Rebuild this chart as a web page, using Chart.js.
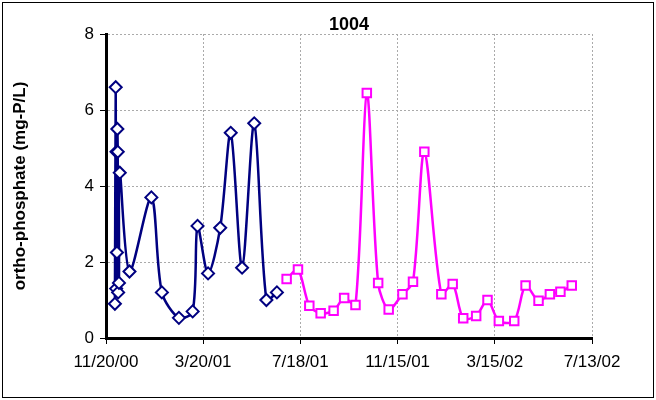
<!DOCTYPE html>
<html>
<head>
<script src="https://cdn.jsdelivr.net/npm/chart.js"></script>
<style>
  body { margin: 0; background: #fff; }
  #wrap { position: absolute; left: 0; top: 0; width: 656px; height: 400px; }
</style>
</head>
<body>
<div id="wrap"><canvas id="c" width="656" height="400"></canvas></div>
<script>
// days after 11/20/00 and ortho-phosphate (mg-P/L)
const blueDays = [11, 12, 12.5, 13, 13.5, 14, 14.5, 15, 16, 17, 29, 56, 69, 90, 107, 113, 126, 141, 154, 168, 183, 198, 211];
const blueVals = [0.9, 6.6, 1.3, 4.9, 2.25, 5.5, 4.9, 1.2, 1.45, 4.35, 1.75, 3.7, 1.2, 0.53, 0.7, 2.95, 1.7, 2.9, 5.4, 1.85, 5.65, 1.0, 1.2];
const pinkDays = [223, 237, 251, 265, 281, 294, 308, 322, 336, 349, 366, 379, 393, 414, 428, 441, 457, 471, 485, 504, 518, 534, 548, 561, 575];
const pinkVals = [1.55, 1.8, 0.85, 0.65, 0.72, 1.05, 0.87, 6.45, 1.45, 0.75, 1.15, 1.48, 4.9, 1.15, 1.42, 0.52, 0.58, 1.0, 0.45, 0.45, 1.38, 0.98, 1.15, 1.22, 1.38];
const startDate = new Date(2000, 10, 20);
const titleText = '1004';

function pts(d, v) { return d.map((x, i) => ({ x: x, y: v[i] })); }
function fmt(day) {
  const d = new Date(startDate.getTime() + day * 86400000);
  return (d.getMonth() + 1) + '/' + d.getDate() + '/' + String(d.getFullYear()).slice(2);
}

// outer frame + title centred over the plot area
const frame = {
  id: 'frame',
  afterDraw(chart) {
    const c = chart.ctx, a = chart.chartArea;
    c.save();
    c.strokeStyle = '#000';
    c.lineWidth = 1;
    c.strokeRect(2.5, 2.5, 651, 395);
    c.fillStyle = '#000';
    c.font = 'bold 18px "Liberation Sans"';
    c.textAlign = 'center';
    c.textBaseline = 'middle';
    c.fillText(titleText, (a.left + a.right) / 2, 25);
    c.restore();
  }
};

new Chart(document.getElementById('c'), {
  type: 'line',
  data: {
    datasets: [
      {
        data: pts(blueDays, blueVals),
        borderColor: '#000080',
        pointStyle: 'rectRot', pointRadius: 6, pointBorderWidth: 2,
        pointBorderColor: '#000080', pointBackgroundColor: '#fff',
        borderWidth: 2.5, tension: 0.3
      },
      {
        data: pts(pinkDays, pinkVals),
        borderColor: '#ff00ff',
        pointStyle: 'rect', pointRadius: 6, pointBorderWidth: 2,
        pointBorderColor: '#ff00ff', pointBackgroundColor: '#fff',
        borderWidth: 2.5, tension: 0.3
      }
    ]
  },
  options: {
    responsive: false,
    animation: false,
    layout: { padding: { left: 6, right: 64, top: 34, bottom: 0 } },
    plugins: {
      legend: { display: false },
      tooltip: { enabled: false }
    },
    scales: {
      x: {
        type: 'linear', min: 0, max: 600,
        afterFit: s => { s.height = 62; },
        ticks: { stepSize: 120, color: '#000', maxRotation: 0, padding: 8,
          font: { family: 'Liberation Sans', size: 17 }, callback: v => fmt(v) },
        grid: { color: '#aaa', tickColor: '#000', tickLength: 6, lineWidth: 1 },
        border: { color: '#000', width: 3, dash: [2, 2] }
      },
      y: {
        min: 0, max: 8,
        afterFit: s => { s.width = 100; },
        ticks: { stepSize: 2, color: '#000', padding: 6,
          font: { family: 'Liberation Sans', size: 17 } },
        grid: { color: '#aaa', tickColor: '#000', tickLength: 6 },
        border: { color: '#000', width: 3, dash: [2, 2] },
        title: { display: true, text: 'ortho-phosphate (mg-P/L)', color: '#000',
          font: { family: 'Liberation Sans', size: 17, weight: 'bold' } }
      }
    }
  },
  plugins: [frame]
});
</script>
</body>
</html>
